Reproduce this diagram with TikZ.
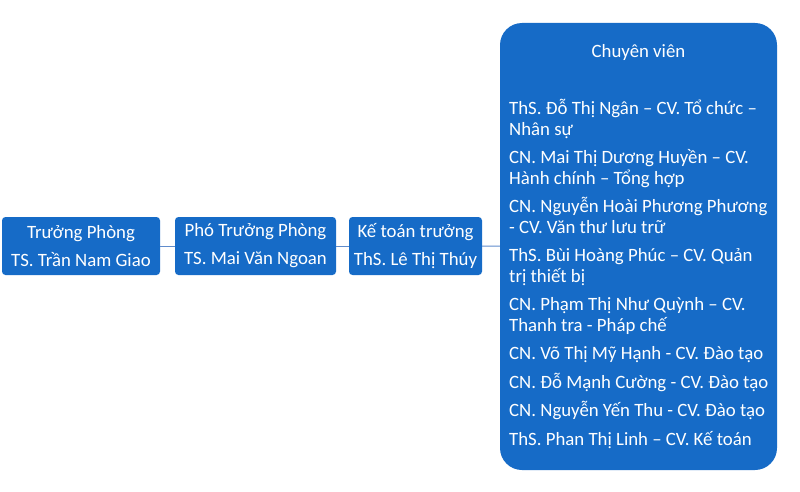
\documentclass[tikz,border=0pt]{standalone}
\usepackage{fontspec}
\setmainfont{Carlito}
\definecolor{boxblue}{RGB}{22,107,199}
\definecolor{linkblue}{RGB}{96,140,204}

\begin{document}
\begin{tikzpicture}[x=1pt,y=-1pt]
		\tikzstyle{role}=[fill=boxblue, rounded corners=3.5pt, text=white, align=center, inner sep=0pt, minimum height=58pt, font=\fontsize{18.8}{28}\selectfont]
		\tikzstyle{group}=[fill=boxblue, rounded corners=22pt, inner sep=0pt]
		\tikzstyle{staff}=[text=white, align=left, inner sep=0pt, font=\fontsize{18.8}{20.5}\selectfont]
		\tikzstyle{link}=[draw=linkblue, line width=0.9pt]
		\useasboundingbox (0,0) rectangle (800,492);
		\node [role, minimum width=158pt] (truongphong) at (81,246) {Trưởng Phòng\\TS. Trần Nam Giao};
		\node [role, minimum width=161pt] (photruong) at (255.5,246) {Phó Trưởng Phòng\\TS. Mai Văn Ngoan};
		\node [role, minimum width=133pt] (ketoan) at (415.5,246) {Kế toán trưởng\\ThS. Lê Thị Thúy};
		\node [group, minimum width=277pt, minimum height=447pt] (chuyenvien) at (638.5,246.5) {};
		\node [staff] (cvtitle) at (638.5,52) {Chuyên viên};
		\node [staff, anchor=base west] (cvlist) at (509,445) {ThS. Đỗ Thị Ngân – CV. Tổ chức –\\Nhân sự\\[8pt]
			CN. Mai Thị Dương Huyền – CV.\\Hành chính – Tổng hợp\\[8pt]
			CN. Nguyễn Hoài Phương Phương\\- CV. Văn thư lưu trữ\\[8pt]
			ThS. Bùi Hoàng Phúc – CV. Quản\\trị thiết bị\\[8pt]
			CN. Phạm Thị Như Quỳnh – CV.\\Thanh tra - Pháp chế\\[8pt]
			CN. Võ Thị Mỹ Hạnh - CV. Đào tạo\\[8pt]
			CN. Đỗ Mạnh Cường - CV. Đào tạo\\[8pt]
			CN. Nguyễn Yến Thu - CV. Đào tạo\\[8pt]
			ThS. Phan Thị Linh – CV. Kế toán};
		\draw [link] (truongphong) -- (photruong);
		\draw [link] (photruong) -- (ketoan);
		\draw [link] (ketoan) -- (chuyenvien);
\end{tikzpicture}
\end{document}
